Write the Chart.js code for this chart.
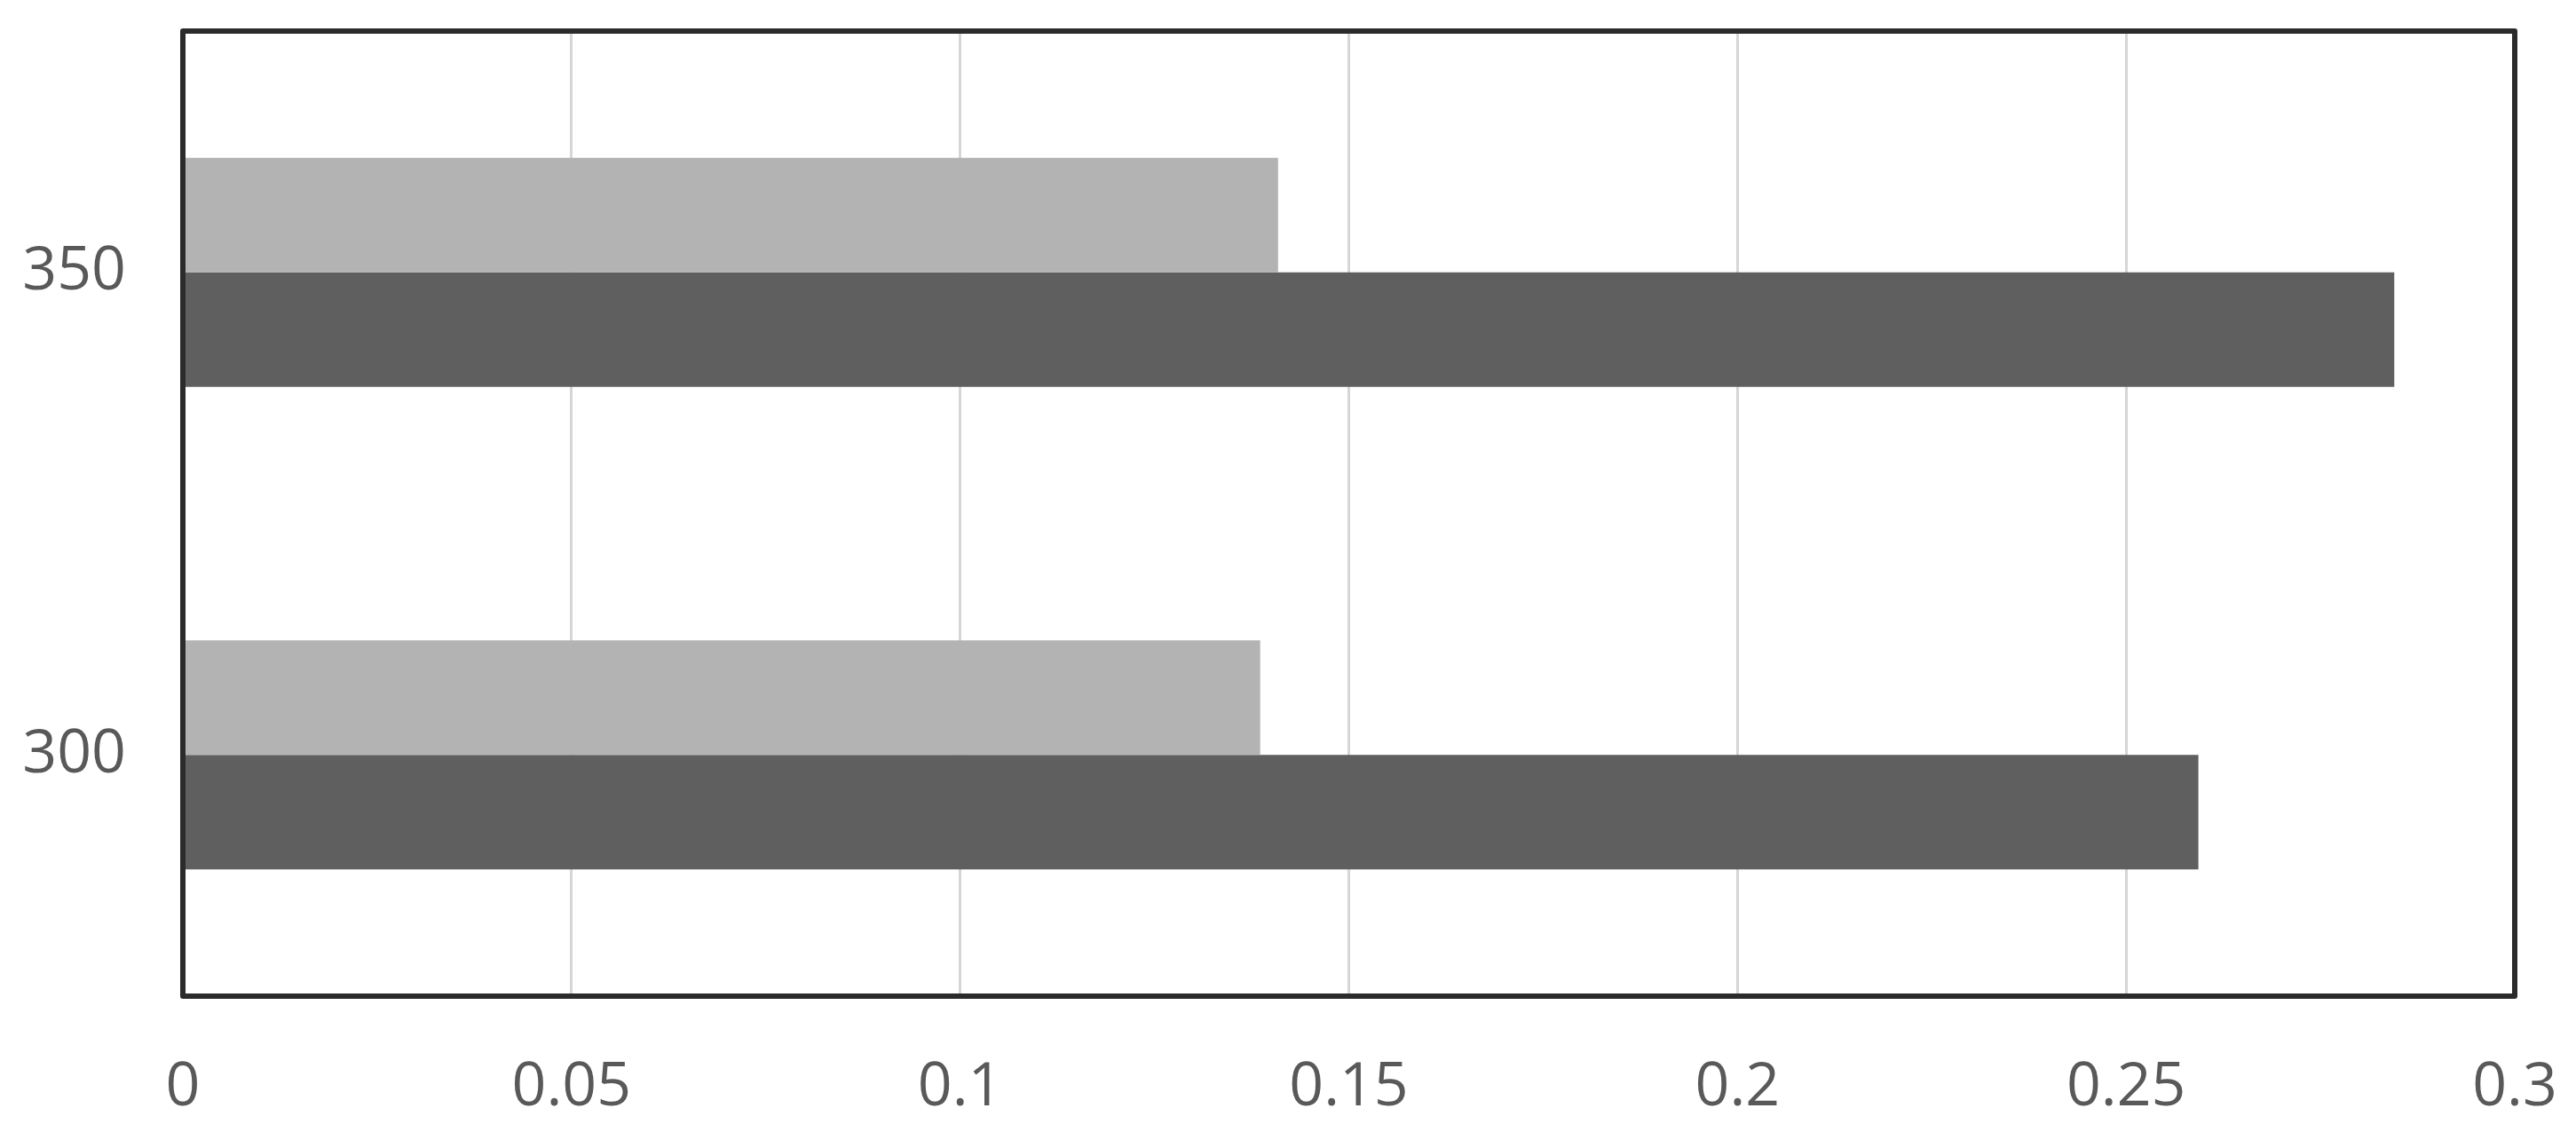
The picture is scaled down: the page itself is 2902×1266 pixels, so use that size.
<!DOCTYPE html>
<html>
<head>
<meta charset="utf-8">
<script src="https://cdn.jsdelivr.net/npm/chart.js@4"></script>
<style>
  html, body { margin: 0; padding: 0; background: #fff; }
  #wrap { width: 2902px; height: 1266px; }
</style>
</head>
<body>
<div id="wrap"><canvas id="myChart"></canvas></div>
<script>
const categories = ['300', '350'];
const lightValues = [0.1386, 0.1409];
const darkValues = [0.2593, 0.2845];
const xTicks = [0, 0.05, 0.1, 0.15, 0.2, 0.25, 0.3];

const frameBox = {
  id: 'frameBox',
  afterDatasetsDraw(chart) {
    const a = chart.chartArea;
    const c = chart.ctx;
    c.save();
    c.strokeStyle = '#2b2b2b';
    c.lineWidth = 6;
    c.lineJoin = 'round';
    c.strokeRect(a.left, a.top, a.right - a.left, a.bottom - a.top);
    c.restore();
  },
};

const ctx = document.getElementById('myChart');
const myChart = new Chart(ctx, {
  type: 'bar',
  data: {
    labels: categories,
    datasets: [
      {
        label: 'Series 2',
        data: lightValues,
        backgroundColor: '#b3b3b3',
        borderWidth: 0,
      },
      {
        label: 'Series 1',
        data: darkValues,
        backgroundColor: '#5f5f5f',
        borderWidth: 0,
      },
    ],
  },
  options: {
    indexAxis: 'y',
    responsive: true,
    maintainAspectRatio: false,
    animation: false,
    layout: { padding: { left: 0, right: 69, top: 35, bottom: 0 } },
    categoryPercentage: 0.475,
    barPercentage: 1,
    plugins: {
      legend: { display: false },
      tooltip: { enabled: false },
    },
    scales: {
      x: {
        min: 0,
        max: 0.3,
        afterBuildTicks(scale) {
          scale.ticks = xTicks.map(v => ({ value: v }));
        },
        afterFit(scale) {
          scale.height = 144;
          scale.paddingLeft = 0;
          scale.paddingRight = 0;
        },
        grid: { color: '#d6d6d6', lineWidth: 3, drawTicks: false },
        border: { display: false },
        ticks: {
          padding: 63,
          color: '#595959',
          font: { family: 'Open Sans', size: 68 },
          maxRotation: 0,
          callback: v => String(v),
        },
      },
      y: {
        reverse: true,
        afterFit(scale) {
          scale.width = 206;
          scale.paddingTop = 0;
          scale.paddingBottom = 0;
        },
        grid: { display: false, drawTicks: false },
        border: { display: false },
        ticks: {
          padding: 64,
          color: '#595959',
          font: { family: 'Open Sans', size: 68 },
        },
      },
    },
  },
  plugins: [frameBox],
});
</script>
</body>
</html>
